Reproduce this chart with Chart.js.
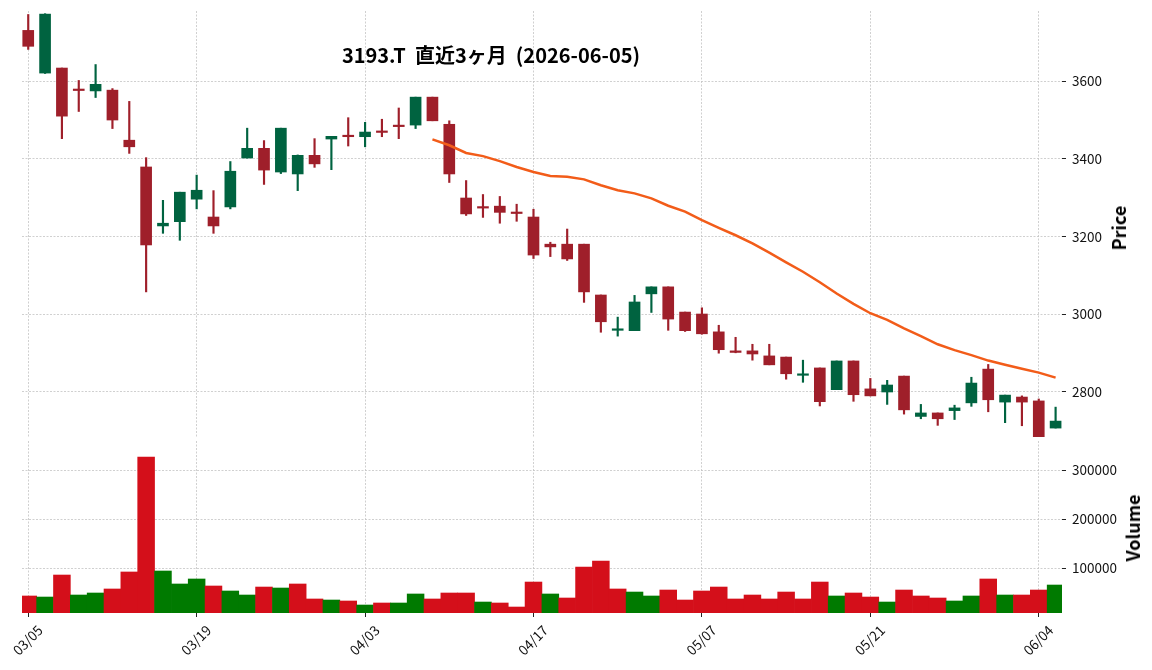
<!DOCTYPE html>
<html lang="ja">
<head>
<meta charset="utf-8">
<title>3193.T 直近3ヶ月</title>
<script src="https://cdn.jsdelivr.net/npm/chart.js@4.4.1/dist/chart.umd.min.js"></script>
<style>
  html, body { margin: 0; padding: 0; background: #fff; }
  #wrap { position: relative; width: 1152px; height: 670px; overflow: hidden; font-family: "Noto Sans CJK JP", "Noto Sans", sans-serif; color: #000; }
  #priceChart { position: absolute; left: 0; top: 0; }
  #volumeChart { position: absolute; left: 0; top: 430px; }
  .title { position: absolute; left: 0; top: 45px; width: 982px; text-align: center; font-weight: bold; font-size: 20px; line-height: 20px; white-space: pre; }
  .ylab { position: absolute; font-weight: bold; font-size: 18px; line-height: 18px; white-space: nowrap; transform: translate(-50%, -50%) rotate(-90deg); }
</style>
</head>
<body>
<div id="wrap">
  <canvas id="priceChart" width="1152" height="450"></canvas>
  <canvas id="volumeChart" width="1152" height="240"></canvas>
  <div class="title">3193.T  直近3ヶ月  (2026-06-05)</div>
  <div class="ylab" style="left:1118px; top:228px;">Price</div>
  <div class="ylab" style="left:1132px; top:528px;">Volume</div>
</div>
<script>
// 日付 (営業日)
const dates = [
  "03/05","03/06","03/09","03/10","03/11","03/12","03/13","03/16","03/17","03/18",
  "03/19","03/23","03/24","03/25","03/26","03/27","03/30","03/31","04/01","04/02",
  "04/03","04/06","04/07","04/08","04/09","04/10","04/13","04/14","04/15","04/16",
  "04/17","04/20","04/21","04/22","04/23","04/24","04/27","04/28","04/30","05/01",
  "05/07","05/08","05/11","05/12","05/13","05/14","05/15","05/18","05/19","05/20",
  "05/21","05/22","05/25","05/26","05/27","05/28","05/29","06/01","06/02","06/03",
  "06/04","06/05"
];

const opens = [
  3731, 3621, 3634, 3577, 3575, 3577, 3448, 3379, 3227, 3238,
  3296, 3250, 3276, 3402, 3427, 3366, 3361, 3409, 3451, 3459,
  3457, 3469, 3484, 3487, 3559, 3489, 3299, 3274, 3278, 3261,
  3250, 3180, 3180, 3180, 3049, 2958, 2957, 3052, 3070, 3005,
  3000, 2954, 2905, 2905, 2892, 2889, 2842, 2861, 2805, 2879,
  2807, 2799, 2840, 2736, 2745, 2751, 2771, 2858, 2773, 2786,
  2776, 2706
];
const highs = [
  3772, 3774, 3634, 3602, 3643, 3581, 3548, 3403, 3293, 3314,
  3358, 3318, 3393, 3479, 3447, 3479, 3410, 3452, 3458, 3506,
  3494, 3502, 3531, 3559, 3559, 3498, 3344, 3308, 3303, 3283,
  3270, 3185, 3219, 3180, 3049, 2992, 3048, 3070, 3070, 3005,
  3016, 2971, 2940, 2922, 2922, 2889, 2881, 2861, 2879, 2879,
  2834, 2829, 2840, 2767, 2745, 2765, 2837, 2870, 2791, 2789,
  2781, 2760
];
const lows = [
  3682, 3620, 3452, 3522, 3558, 3478, 3414, 3057, 3208, 3190,
  3271, 3208, 3271, 3402, 3334, 3362, 3318, 3378, 3372, 3433,
  3431, 3457, 3452, 3478, 3498, 3339, 3254, 3249, 3234, 3239,
  3143, 3148, 3138, 3030, 2953, 2943, 2957, 3004, 2958, 2955,
  2948, 2899, 2900, 2881, 2869, 2832, 2824, 2763, 2805, 2775,
  2789, 2767, 2742, 2730, 2713, 2728, 2762, 2748, 2720, 2712,
  2682, 2706
];
const closes = [
  3690, 3773, 3510, 3576, 3592, 3500, 3431, 3178, 3234, 3314,
  3319, 3227, 3368, 3427, 3371, 3479, 3409, 3387, 3458, 3457,
  3469, 3468, 3483, 3559, 3498, 3361, 3258, 3273, 3262, 3259,
  3152, 3173, 3142, 3057, 2980, 2959, 3031, 3070, 2987, 2957,
  2949, 2908, 2901, 2897, 2869, 2846, 2844, 2774, 2879, 2792,
  2789, 2817, 2753, 2745, 2730, 2758, 2822, 2779, 2791, 2773,
  2682, 2724
];
const volumes = [
  43500, 41400, 86300, 45500, 49600, 57800, 92500, 327100, 94500, 68000,
  78200, 63900, 53700, 45500, 61800, 59800, 68000, 37400, 35300, 33300,
  25100, 29200, 29200, 47600, 37400, 49600, 49600, 31200, 29200, 21000,
  72000, 47600, 39400, 102700, 114900, 57800, 51600, 43500, 55700, 35300,
  53700, 61800, 37400, 45500, 37400, 51600, 37400, 72000, 43500, 49600,
  41400, 31200, 55700, 43500, 39400, 33300, 43500, 78200, 45500, 45500,
  55700, 65900
];

// 25日移動平均 (04/09 から)
const maFirst = 24;
const ma25 = [
  3450, 3435, 3415, 3407, 3394, 3379, 3366, 3356, 3354, 3347,
  3332, 3319, 3311, 3298, 3279, 3264, 3242, 3222, 3203, 3182,
  3158, 3133, 3109, 3082, 3053, 3026, 3002, 2985, 2963, 2943,
  2922, 2907, 2894, 2880, 2869, 2859, 2849, 2836
];

const priceTicks = [2800, 3000, 3200, 3400, 3600];
const volumeTicks = [100000, 200000, 300000];
const xTickLabels = ["03/05", "03/19", "04/03", "04/17", "05/07", "05/21", "06/04"];

const UP = "#006340", DOWN = "#9f1f2a";
const VOL_UP = "#007a00", VOL_DOWN = "#d40f1a";
const FONT = "'Noto Sans CJK JP', 'Noto Sans', sans-serif";

const candleColors = closes.map((c, i) => c >= opens[i] ? UP : DOWN);
const volColors = closes.map((c, i) => {
  const ref = i === 0 ? opens[0] : closes[i - 1];
  return c >= ref ? VOL_UP : VOL_DOWN;
});
const xTickIdx = xTickLabels.map(l => dates.indexOf(l));

const gridStyle = {
  color: "#c4c4c4",
  lineWidth: 0.8,
  tickColor: "#222",
  tickWidth: 1,
  tickBorderDash: [],
  tickLength: 4
};
const noBorder = { display: false, dash: [2, 1.5] };

// 軸ラベルの余白を消す
const fixHeight = (h) => (scale) => {
  scale.height = h;
  scale.paddingLeft = 0;
  scale.paddingRight = 0;
};
const fixWidth = (w) => (scale) => {
  scale.width = w;
  scale.paddingTop = 0;
  scale.paddingBottom = 0;
};

const xBase = {
  type: "linear",
  min: -0.37,
  max: 61.38,
  offset: false,
  border: noBorder,
  afterBuildTicks: (scale) => { scale.ticks = xTickIdx.map(v => ({ value: v })); }
};

Chart.defaults.font.family = FONT;
Chart.defaults.color = "#111";

// 株価
new Chart(document.getElementById("priceChart"), {
  type: "bar",
  data: {
    datasets: [
      {
        type: "line",
        data: ma25.map((v, k) => ({ x: maFirst + k, y: v })),
        borderColor: "#f25c19",
        borderWidth: 2.5,
        pointRadius: 0,
        tension: 0,
        order: 0
      },
      {
        data: opens.map((o, i) => ({ x: i, y: [o, closes[i]] })),
        backgroundColor: candleColors,
        barThickness: 11,
        minBarLength: 1.5,
        grouped: false,
        order: 1
      },
      {
        data: lows.map((l, i) => ({ x: i, y: [l, highs[i]] })),
        backgroundColor: candleColors,
        barThickness: 1.5,
        grouped: false,
        order: 2
      }
    ]
  },
  options: {
    responsive: false,
    animation: false,
    layout: { padding: { left: 22, top: 11, right: 0, bottom: 0 } },
    plugins: { legend: { display: false }, tooltip: { enabled: false } },
    scales: {
      x: {
        ...xBase,
        grid: { ...gridStyle, offset: false, drawTicks: false },
        ticks: { display: false },
        afterFit: fixHeight(13)
      },
      y: {
        type: "linear",
        position: "right",
        min: 2683,
        max: 3781,
        border: noBorder,
        grid: gridStyle,
        afterBuildTicks: (scale) => { scale.ticks = priceTicks.map(v => ({ value: v })); },
        ticks: { font: { size: 13.5 }, padding: 6, color: "#111", callback: (v) => String(v) },
        afterFit: fixWidth(90)
      }
    }
  }
});

// 出来高
new Chart(document.getElementById("volumeChart"), {
  type: "bar",
  data: {
    datasets: [
      {
        data: volumes.map((v, i) => ({ x: i, y: v })),
        backgroundColor: volColors,
        barPercentage: 1,
        categoryPercentage: 1,
        grouped: false
      }
    ]
  },
  options: {
    responsive: false,
    animation: false,
    layout: { padding: { left: 22, top: 11, right: 0, bottom: 0 } },
    plugins: { legend: { display: false }, tooltip: { enabled: false } },
    scales: {
      x: {
        ...xBase,
        grid: { ...gridStyle, offset: false },
        ticks: {
          autoSkip: false,
          minRotation: 45,
          maxRotation: 45,
          font: { size: 13.5 },
          color: "#111",
          padding: 5,
          labelOffset: 12,
          callback: (v) => dates[v] || ""
        },
        afterFit: fixHeight(57)
      },
      y: {
        type: "linear",
        position: "right",
        min: 8800,
        max: 359800,
        border: noBorder,
        grid: gridStyle,
        afterBuildTicks: (scale) => { scale.ticks = volumeTicks.map(v => ({ value: v })); },
        ticks: { font: { size: 13.5 }, padding: 6, color: "#111", callback: (v) => String(v) },
        afterFit: fixWidth(90)
      }
    }
  }
});
</script>
</body>
</html>
